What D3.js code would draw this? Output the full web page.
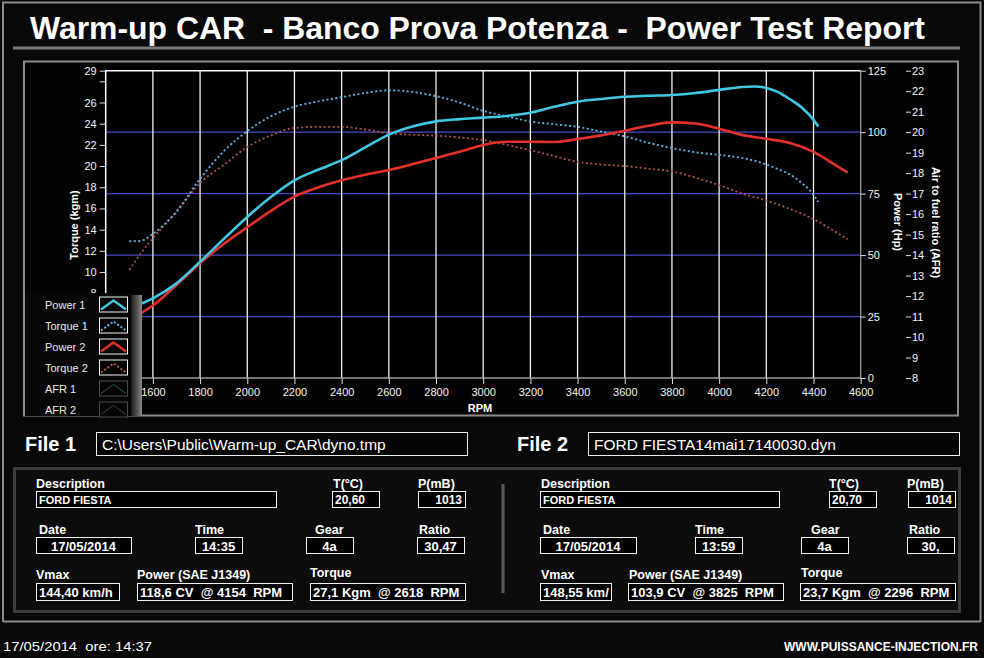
<!DOCTYPE html>
<html>
<head>
<meta charset="utf-8">
<script src="https://cdn.jsdelivr.net/npm/d3@7"></script>
<style>
  html, body { margin: 0; padding: 0; background: #080808; }
  svg { display: block; font-family: "Liberation Sans", Arial, sans-serif; }
  text { white-space: pre; }
</style>
</head>
<body>
<svg id="chart" width="984" height="658"></svg>
<script>
// ---- data ----
var rpmRun1 = [1500,1550,1600,1700,1800,1900,2000,2100,2200,2300,2400,2500,2600,2700,2800,2900,3000,
  3100,3200,3300,3400,3500,3600,3700,3800,3900,4000,4100,4150,4200,4250,4300,4350,4400,4420];
var power1 = [28,30.2,32.4,38.5,47.3,56.5,65.5,73.6,80.4,84.7,88.6,93.8,99.0,102.3,104.4,105.3,105.9,
  106.6,107.9,110.3,112.4,113.5,114.4,114.8,115.1,115.9,117.2,118.4,118.6,118.0,116.3,113.4,110.0,105.0,102.3];
var torque1 = [12.9,12.95,13.6,15.7,18.8,21.4,23.3,24.7,25.6,26.1,26.5,26.9,27.15,27.0,26.6,26.0,25.2,
  24.7,24.2,23.95,23.7,23.25,22.8,22.2,21.7,21.3,21.05,20.75,20.5,20.15,19.7,19.2,18.4,17.3,16.6];

var rpmRun2 = [1500,1550,1600,1700,1800,1900,2000,2100,2200,2300,2400,2500,2600,2700,2800,2900,3000,
  3100,3200,3300,3400,3500,3600,3700,3800,3900,4000,4100,4200,4300,4400,4500,4545];
var power2 = [22,26.3,29.5,37.8,46.7,54.5,61.3,68.0,73.8,77.5,80.4,82.7,84.6,87.0,89.5,92.0,94.8,
  96.1,96.1,96.0,97.2,98.7,100.6,102.6,104.0,103.5,101.4,98.8,97.3,95.6,92.0,86.2,83.5];
var torque2 = [10.2,11.8,13.2,15.7,18.4,20.1,21.8,22.9,23.6,23.7,23.7,23.45,23.1,22.95,22.87,22.7,22.45,
  22.0,21.5,20.95,20.4,20.15,20.0,19.75,19.5,18.9,18.2,17.4,16.75,15.95,15.0,13.7,13.1];

var rpmTicks = [1600,1800,2000,2200,2400,2600,2800,3000,3200,3400,3600,3800,4000,4200,4400,4600];
var torqueTicks = [0,2,4,6,8,10,12,14,16,18,20,22,24,26,28,29];
var powerTicks = [0,25,50,75,100,125];
var afrTicks = [8,9,10,11,12,13,14,15,16,17,18,19,20,21,22,23];

var legendNames = ["Power 1","Torque 1","Power 2","Torque 2","AFR 1","AFR 2"];

var fieldLabels = ["Description","T(°C)","P(mB)","Date","Time","Gear","Ratio","Vmax","Power (SAE J1349)","Torque"];
var file1Values = ["FORD FIESTA","20,60","1013","17/05/2014","14:35","4a","30,47","144,40 km/h",
  "118,6 CV  @ 4154  RPM","27,1 Kgm  @ 2618  RPM"];
var file2Values = ["FORD FIESTA","20,70","1014","17/05/2014","13:59","4a","30,","148,55 km/",
  "103,9 CV  @ 3825  RPM","23,7 Kgm  @ 2296  RPM"];

var titleText = "Warm-up CAR  - Banco Prova Potenza -  Power Test Report";
var file1Name = "C:\\Users\\Public\\Warm-up_CAR\\dyno.tmp";
var file2Name = "FORD FIESTA14mai17140030.dyn";
var footerLeft = "17/05/2014  ore: 14:37";
var footerRight = "WWW.PUISSANCE-INJECTION.FR";

// ---- drawing ----
var svg = d3.select("#chart");
var defs = svg.append("defs");

// page frame
svg.append("rect").attr("x", 0).attr("y", 0).attr("width", 984).attr("height", 658).attr("fill", "#080808");
svg.append("path").attr("d", "M3,622 V2.5 H980.5 V622 M3,621.5 H980.5")
  .attr("fill", "none").attr("stroke", "#8a8a8a").attr("stroke-width", 2);

// title
svg.append("text").attr("x", 30).attr("y", 39)
  .attr("font-size", 31).attr("font-weight", "bold").attr("fill", "#fff")
  .attr("textLength", 895).attr("lengthAdjust", "spacingAndGlyphs")
  .text(titleText);
svg.append("line").attr("x1", 13).attr("x2", 960).attr("y1", 48).attr("y2", 48)
  .attr("stroke", "#7a7a7a").attr("stroke-width", 3);

// chart panel
svg.append("rect").attr("x", 24).attr("y", 61.5).attr("width", 934).attr("height", 354)
  .attr("fill", "#030303").attr("stroke", "#8c8c8c").attr("stroke-width", 2);

var x = d3.scaleLinear().domain([1400, 4600]).range([105.7, 860.7]);
var yP = d3.scaleLinear().domain([0, 125]).range([378, 70.7]);
var yT = d3.scaleLinear().domain([0, 29]).range([378, 70.7]);
var yA = d3.scaleLinear().domain([8, 23]).range([378, 70.7]);

var plot = svg.append("g");
plot.append("rect").attr("x", x(1400)).attr("y", yP(125)).attr("width", x(4600) - x(1400))
  .attr("height", yP(0) - yP(125)).attr("fill", "#000");

// blue horizontal grid on the power scale
plot.selectAll(".hgrid").data([25, 50, 75, 100]).enter().append("line")
  .attr("x1", x(1400)).attr("x2", x(4600))
  .attr("y1", function(d) { return yP(d); }).attr("y2", function(d) { return yP(d); })
  .attr("stroke", "#4b4bc4").attr("stroke-width", 1.2);

// white vertical grid
plot.selectAll(".vgrid").data(rpmTicks.filter(function(d) { return d < 4600; })).enter().append("line")
  .attr("x1", function(d) { return x(d); }).attr("x2", function(d) { return x(d); })
  .attr("y1", yP(125)).attr("y2", yP(0))
  .attr("stroke", "#f0f0f0").attr("stroke-width", 1.3);

// plot borders
plot.append("path").attr("d", "M" + x(1400) + "," + yP(0) + "V" + yP(125) + "H" + x(4600))
  .attr("fill", "none").attr("stroke", "#fff").attr("stroke-width", 1.5);
plot.append("path").attr("d", "M" + x(1400) + "," + yP(0) + "H" + x(4600) + "V" + yP(125))
  .attr("fill", "none").attr("stroke", "#9a9a9a").attr("stroke-width", 1.3);

// axes
function styleAxis(g) {
  g.select(".domain").remove();
  g.selectAll("line").attr("stroke", "#ddd");
  g.selectAll("text").attr("fill", "#f2f2f2").attr("font-size", 11)
    .attr("font-family", "'Liberation Sans', Arial, sans-serif");
}

var xAxis = svg.append("g").attr("transform", "translate(0," + yP(0) + ")")
  .call(d3.axisBottom(x).tickValues(rpmTicks).tickSize(6).tickPadding(4).tickFormat(d3.format("d")));
styleAxis(xAxis);

var tAxis = svg.append("g").attr("transform", "translate(" + x(1400) + ",0)")
  .call(d3.axisLeft(yT).tickValues(torqueTicks).tickSize(6).tickPadding(3)
    .tickFormat(function(d) { return d === 28 ? "" : d; }));
styleAxis(tAxis);

var pAxis = svg.append("g").attr("transform", "translate(" + x(4600) + ",0)")
  .call(d3.axisRight(yP).tickValues(powerTicks).tickSize(5).tickPadding(2));
styleAxis(pAxis);

var aAxis = svg.append("g").attr("transform", "translate(906,0)")
  .call(d3.axisRight(yA).tickValues(afrTicks).tickSize(5).tickPadding(1));
styleAxis(aAxis);

// axis titles
svg.append("text").attr("transform", "translate(74,225) rotate(-90)")
  .attr("text-anchor", "middle").attr("dominant-baseline", "central")
  .attr("font-size", 11).attr("font-weight", "bold").attr("fill", "#fff").text("Torque (kgm)");
svg.append("text").attr("transform", "translate(898,222) rotate(90)")
  .attr("text-anchor", "middle").attr("dominant-baseline", "central")
  .attr("font-size", 11).attr("font-weight", "bold").attr("fill", "#fff").text("Power (Hp)");
svg.append("text").attr("transform", "translate(935.5,222.5) rotate(90)")
  .attr("text-anchor", "middle").attr("dominant-baseline", "central")
  .attr("font-size", 11).attr("font-weight", "bold").attr("fill", "#fff").text("Air to fuel ratio (AFR)");
svg.append("text").attr("x", 480).attr("y", 408)
  .attr("text-anchor", "middle").attr("dominant-baseline", "central")
  .attr("font-size", 11).attr("font-weight", "bold").attr("fill", "#fff").text("RPM");

// curves
function pairs(rpm, vals) { return rpm.map(function(r, i) { return [r, vals[i]]; }); }

var linePower = d3.line().curve(d3.curveMonotoneX)
  .x(function(d) { return x(d[0]); }).y(function(d) { return yP(d[1]); });
var lineTorque = d3.line().curve(d3.curveMonotoneX)
  .x(function(d) { return x(d[0]); }).y(function(d) { return yT(d[1]); });

var series = [
  { data: pairs(rpmRun2, torque2), line: lineTorque, color: "#b05442", width: 1.8, dash: "2,2.5" },
  { data: pairs(rpmRun1, torque1), line: lineTorque, color: "#5cb2e4", width: 1.9, dash: "2,2.5" },
  { data: pairs(rpmRun2, power2), line: linePower, color: "#e3302b", width: 2.6, dash: null },
  { data: pairs(rpmRun1, power1), line: linePower, color: "#3fc7e3", width: 2.6, dash: null }
];
series.forEach(function(s) {
  svg.append("path").datum(s.data).attr("d", s.line)
    .attr("fill", "none").attr("stroke", s.color).attr("stroke-width", s.width)
    .attr("stroke-dasharray", s.dash);
});

// legend
var grad = defs.append("linearGradient").attr("id", "scrollGrad").attr("x1", 0).attr("x2", 1).attr("y1", 0).attr("y2", 0);
grad.append("stop").attr("offset", "0%").attr("stop-color", "#1a1a1a");
grad.append("stop").attr("offset", "60%").attr("stop-color", "#5a5a5a");
grad.append("stop").attr("offset", "100%").attr("stop-color", "#8a8a8a");

var legend = svg.append("g");
legend.append("rect").attr("x", 25).attr("y", 293).attr("width", 117).attr("height", 123).attr("fill", "#070707");
legend.append("rect").attr("x", 131).attr("y", 295).attr("width", 11).attr("height", 121).attr("fill", "url(#scrollGrad)");

var legendStyle = [
  { color: "#3fc7e3", dash: null, w: 2.4, box: "#f4f4f4" },
  { color: "#5cb2e4", dash: "2,2", w: 2, box: "#f4f4f4" },
  { color: "#e3302b", dash: null, w: 2.4, box: "#f4f4f4" },
  { color: "#b05442", dash: "2,2", w: 2, box: "#f4f4f4" },
  { color: "#2c5c64", dash: null, w: 1, box: "#4a4a4a" },
  { color: "#4e3a2e", dash: null, w: 1, box: "#4a4a4a" }
];
legendNames.forEach(function(name, i) {
  var cy = 304.5 + i * 21;
  var st = legendStyle[i];
  legend.append("text").attr("x", 45).attr("y", cy).attr("dominant-baseline", "central")
    .attr("font-size", 11).attr("fill", "#e8e8e8").text(name);
  legend.append("rect").attr("x", 99.5).attr("y", cy - 7.5).attr("width", 28).attr("height", 15)
    .attr("fill", "#050505").attr("stroke", st.box).attr("stroke-width", 1);
  legend.append("path").attr("d", "M101," + (cy + 5) + " L113.5," + (cy - 4) + " L126," + (cy + 5))
    .attr("fill", "none").attr("stroke", st.color).attr("stroke-width", st.w)
    .attr("stroke-dasharray", st.dash);
});

// file names
function fileRow(label, name, lx, bx, bw) {
  svg.append("text").attr("x", lx).attr("y", 451).attr("font-size", 20).attr("font-weight", "bold")
    .attr("fill", "#fff").text(label);
  svg.append("rect").attr("x", bx + 0.5).attr("y", 432.5).attr("width", bw).attr("height", 23)
    .attr("fill", "#050505").attr("stroke", "#eee").attr("stroke-width", 1);
  svg.append("text").attr("x", bx + 6).attr("y", 449.5).attr("font-size", 15.5)
    .attr("fill", "#fff").text(name);
}
fileRow("File 1", file1Name, 25, 96, 371);
fileRow("File 2", file2Name, 517, 588, 371);

// info panel
svg.append("rect").attr("x", 14.5).attr("y", 468.5).attr("width", 945).attr("height", 143)
  .attr("fill", "#0c0c0c").attr("stroke", "#3c3c3c").attr("stroke-width", 3);
svg.append("line").attr("x1", 503).attr("x2", 503).attr("y1", 484).attr("y2", 593)
  .attr("stroke", "#5a5a5a").attr("stroke-width", 3);

// field layout: [labelX, boxX, boxW, row, align]
var layout1 = [[36,36,240,0,"start"],[333,332,47,0,"start"],[418,418,47,0,"end"],
  [39,36,95,1,"middle"],[195,195,47,1,"middle"],[315,306,47,1,"middle"],[419,417,47,1,"middle"],
  [36,36,83,2,"start"],[137,137,155,2,"start"],[310,310,155,2,"start"]];
var layout2 = [[541,540,239,0,"start"],[829,829,47,0,"start"],[907,908,47,0,"end"],
  [543,540,96,1,"middle"],[695,695,47,1,"middle"],[811,801,47,1,"middle"],[909,907,47,1,"middle"],
  [541,540,71,2,"start"],[629,628,155,2,"start"],[801,800,155,2,"start"]];
var rowLabelY = [488, 534, 579];
var rowBoxY = [491, 537, 583];
var rowBoxH = [16, 16, 17];
var rowFont = [12, 13, 13];

function infoPanel(layout, values) {
  layout.forEach(function(L, i) {
    var row = L[3];
    var ly = rowLabelY[row] - (i === 9 ? 2 : 0);
    svg.append("text").attr("x", L[0]).attr("y", ly).attr("font-size", 12.5).attr("font-weight", "bold")
      .attr("fill", "#fff").text(fieldLabels[i]);
    svg.append("rect").attr("x", L[1] + 0.5).attr("y", rowBoxY[row] + 0.5).attr("width", L[2])
      .attr("height", rowBoxH[row]).attr("fill", "#000").attr("stroke", "#f0f0f0").attr("stroke-width", 1);
    var tx = L[4] === "start" ? L[1] + 3 : (L[4] === "end" ? L[1] + L[2] - 3 : L[1] + L[2] / 2);
    svg.append("text").attr("x", tx).attr("y", rowBoxY[row] + rowBoxH[row] / 2 + 1)
      .attr("text-anchor", L[4]).attr("dominant-baseline", "central")
      .attr("font-size", i === 0 ? 11 : rowFont[row]).attr("font-weight", "bold")
      .attr("fill", "#fff").text(values[i]);
  });
}
infoPanel(layout1, file1Values);
infoPanel(layout2, file2Values);

// footer
svg.append("text").attr("x", 3).attr("y", 651).attr("font-size", 13).attr("fill", "#fff")
  .attr("textLength", 149).attr("lengthAdjust", "spacingAndGlyphs").text(footerLeft);
svg.append("text").attr("x", 978).attr("y", 651).attr("text-anchor", "end").attr("font-size", 12)
  .attr("font-weight", "bold").attr("fill", "#fff").text(footerRight);
</script>
</body>
</html>
